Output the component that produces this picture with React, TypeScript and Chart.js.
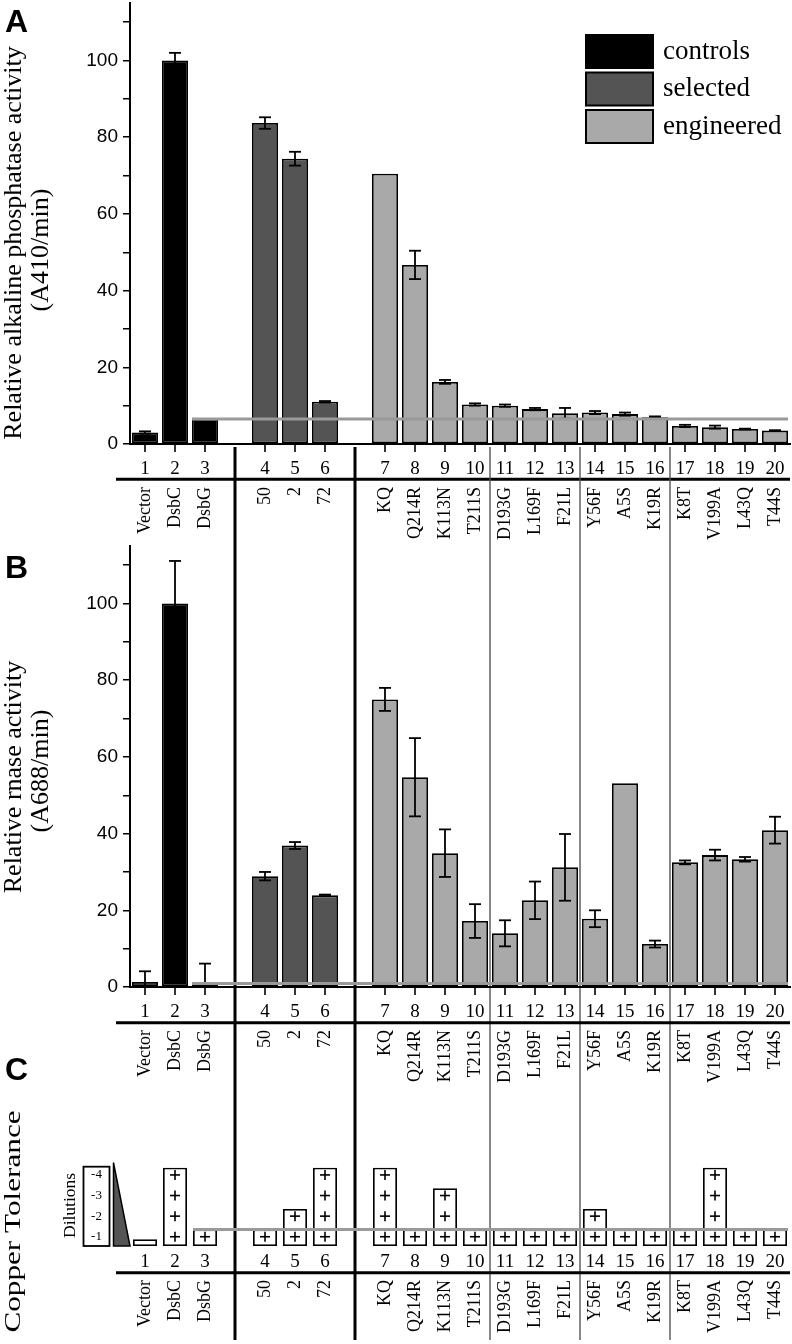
import React, { useEffect, useRef } from 'react';
import { Chart, registerables } from 'chart.js';

Chart.register(...registerables);

const W = 792;
const H = 1344;
const SERIF = '"Liberation Serif", "Times New Roman", serif';
const SANS = '"Liberation Sans", Arial, sans-serif';

// ---- categories (22 slots, two empty slots hold the group dividers) ----
const slotNumbers = ['1', '2', '3', '', '4', '5', '6', '', '7', '8', '9', '10', '11', '12', '13', '14', '15', '16', '17', '18', '19', '20'];
const slotNames = ['Vector', 'DsbC', 'DsbG', '', '50', '2', '72', '', 'KQ', 'Q214R', 'K113N', 'T211S', 'D193G', 'L169F', 'F21L', 'Y56F', 'A5S', 'K19R', 'K8T', 'V199A', 'L43Q', 'T44S'];
const slotGroups: (string | null)[] = ['controls', 'controls', 'controls', null, 'selected', 'selected', 'selected', null,
  'engineered', 'engineered', 'engineered', 'engineered', 'engineered', 'engineered', 'engineered', 'engineered', 'engineered', 'engineered', 'engineered', 'engineered', 'engineered', 'engineered'];
const groupNames = ['controls', 'selected', 'engineered'];
const groupColors = ['#000000', '#545454', '#a9a9a9'];
const thickDividers = [3, 7];
const thinDividers = [11.5, 14.5, 17.5];

// ---- panel A: alkaline phosphatase ----
const alpValues = [3.0, 100, 6.5, null, 83.7, 74.4, 11.0, null, 70.5, 46.7, 16.2, 10.3, 10.0, 9.1, 8.0, 8.2, 7.8, 7.0, 4.7, 4.4, 3.9, 3.5];
const alpErrors = [0.3, 2.0, 0, null, 1.5, 1.8, 0.2, null, 0, 3.7, 0.5, 0.3, 0.3, 0.3, 1.4, 0.4, 0.4, 0.2, 0.3, 0.4, 0.1, 0.1];
const alpCutoff = 6.5;

// ---- panel B: RNase ----
const rnaseValues = [1.3, 100, 0.8, null, 28.9, 36.9, 23.9, null, 75.0, 54.7, 34.9, 17.2, 14.0, 22.6, 31.2, 17.8, 53.1, 11.2, 32.5, 34.4, 33.3, 40.9];
const rnaseErrors = [2.8, 11.1, 5.3, null, 1.1, 0.9, 0.2, null, 3.0, 10.2, 6.2, 4.4, 3.4, 4.9, 8.7, 2.2, 0, 0.9, 0.5, 1.4, 0.6, 3.5];
const rnaseCutoff = 0.9;

// ---- panel C: copper tolerance (number of positive dilutions) ----
const copperPlus = [0, 4, 1, null, 1, 2, 4, null, 4, 1, 3, 1, 1, 1, 1, 2, 1, 1, 1, 4, 1, 1];
const copperCutoff = 0.8;
const dilutionLabels = ['-1', '-2', '-3', '-4'];

const slotColors = slotGroups.map((g) => (g === null ? 'rgba(0,0,0,0)' : groupColors[groupNames.indexOf(g)]));

function drawRotated(ctx: CanvasRenderingContext2D, text: string, x: number, y: number, font: string,
  align: CanvasTextAlign, baseline: CanvasTextBaseline, stretch = 1) {
  ctx.save();
  ctx.translate(x, y);
  ctx.rotate(-Math.PI / 2);
  ctx.scale(stretch, 1);
  ctx.font = font;
  ctx.textAlign = align;
  ctx.textBaseline = baseline;
  ctx.fillStyle = '#000';
  ctx.fillText(text, 0, 0);
  ctx.restore();
}

function line(ctx: CanvasRenderingContext2D, x1: number, y1: number, x2: number, y2: number, w: number, color = '#000') {
  ctx.save();
  ctx.strokeStyle = color;
  ctx.lineWidth = w;
  ctx.beginPath();
  ctx.moveTo(x1, y1);
  ctx.lineTo(x2, y2);
  ctx.stroke();
  ctx.restore();
}

// table of numbers + rotated names under a panel
function tablePlugin(axisTicks: boolean, numOff: number, lineOff: number, labelOff: number) {
  return {
    id: 'labelTable',
    afterDraw(chart: any) {
      const ctx: CanvasRenderingContext2D = chart.ctx;
      const xs = chart.scales.x;
      const base = chart.chartArea.bottom;
      slotNumbers.forEach((n, i) => {
        if (!n) return;
        const x = xs.getPixelForValue(i);
        if (axisTicks) line(ctx, x, base, x, base + 8, 1.6);
        ctx.save();
        ctx.font = `19px ${SERIF}`;
        ctx.textAlign = 'center';
        ctx.textBaseline = 'alphabetic';
        ctx.fillStyle = '#000';
        ctx.fillText(n, x, base + numOff);
        ctx.restore();
        drawRotated(ctx, slotNames[i], x, base + labelOff, `18px ${SERIF}`, 'right', 'middle');
      });
      line(ctx, chart.chartArea.left - 14, base + lineOff, chart.chartArea.right, base + lineOff, 3);
    },
  };
}

function errorPlugin(errors: (number | null)[], cutoff: number) {
  return {
    id: 'errorBars',
    afterDatasetsDraw(chart: any) {
      const ctx: CanvasRenderingContext2D = chart.ctx;
      const meta = chart.getDatasetMeta(0);
      const ys = chart.scales.y;
      const area = chart.chartArea;
      const vals = chart.data.datasets[0].data as (number | null)[];
      ctx.save();
      ctx.beginPath();
      ctx.rect(area.left, area.top - 10, area.right - area.left, area.bottom - area.top + 9);
      ctx.clip();
      vals.forEach((v, i) => {
        const e = errors[i];
        if (v == null || !e) return;
        const x = meta.data[i].x;
        const y1 = ys.getPixelForValue(v + e);
        const y2 = ys.getPixelForValue(v - e);
        line(ctx, x, y1, x, y2, 1.8);
        line(ctx, x - 6, y1, x + 6, y1, 1.8);
        line(ctx, x - 6, y2, x + 6, y2, 1.8);
      });
      ctx.restore();
      const x0 = meta.data[2].x - meta.data[2].width / 2;
      const yc = ys.getPixelForValue(cutoff);
      line(ctx, x0, yc, area.right - 2, yc, 3, '#9a9a9a');
    },
  };
}

function titlePlugin(lines: string[], centers: number[], letter: string, letterY: number) {
  return {
    id: 'panelTitle',
    afterDraw(chart: any) {
      const ctx: CanvasRenderingContext2D = chart.ctx;
      drawRotated(ctx, lines[0], 21, centers[0], `26px ${SERIF}`, 'center', 'alphabetic');
      drawRotated(ctx, lines[1], 47.5, centers[1], `26px ${SERIF}`, 'center', 'alphabetic');
      ctx.save();
      ctx.font = `bold 32px ${SANS}`;
      ctx.fillStyle = '#000';
      ctx.textBaseline = 'alphabetic';
      ctx.fillText(letter, 5, letterY);
      ctx.restore();
    },
  };
}

const dividerPlugin = {
  id: 'dividers',
  afterDraw(chart: any) {
    const ctx: CanvasRenderingContext2D = chart.ctx;
    const xs = chart.scales.x;
    const y1 = chart.chartArea.bottom + 3;
    const y2 = 1340;
    thickDividers.forEach((d) => {
      const x = xs.getPixelForValue(d);
      line(ctx, x, y1, x, y2, 3);
    });
    thinDividers.forEach((d) => {
      const x = xs.getPixelForValue(d);
      line(ctx, x, y1, x, y2, 1.4, '#555');
    });
  },
};

const legendPlugin = {
  id: 'groupLegend',
  afterDraw(chart: any) {
    const ctx: CanvasRenderingContext2D = chart.ctx;
    const right = chart.chartArea.right;
    const top = chart.chartArea.top;
    groupNames.forEach((g, i) => {
      const bx = right - 204;
      const by = top + 32 + i * 37.5;
      ctx.save();
      ctx.fillStyle = groupColors[i];
      ctx.fillRect(bx, by, 67, 33);
      ctx.strokeStyle = '#000';
      ctx.lineWidth = 2;
      ctx.strokeRect(bx, by, 67, 33);
      ctx.font = `27px ${SERIF}`;
      ctx.fillStyle = '#000';
      ctx.textAlign = 'left';
      ctx.textBaseline = 'alphabetic';
      ctx.fillText(g, right - 127, by + 16.5 + 7);
      ctx.restore();
    });
  },
};

function barConfig(values: (number | null)[], top: number, bottom: number, plugins: any[]) {
  return {
    type: 'bar' as const,
    data: {
      labels: slotNumbers,
      datasets: [{
        data: values,
        backgroundColor: slotColors,
        borderColor: '#000',
        borderWidth: 1.8,
        borderSkipped: false,
        barPercentage: 0.87,
        categoryPercentage: 1,
      }],
    },
    options: {
      animation: false,
      responsive: false,
      devicePixelRatio: 1,
      layout: { padding: { left: 0, right: 2, top, bottom: H - bottom } },
      plugins: { legend: { display: false }, tooltip: { enabled: false } },
      scales: {
        x: {
          type: 'category',
          offset: true,
          afterFit: (s: any) => { s.height = 0; s.paddingLeft = 0; s.paddingRight = 0; },
          ticks: { display: false },
          grid: { drawOnChartArea: false, drawTicks: false },
          border: { color: '#000', width: 2 },
        },
        y: {
          min: 0,
          max: 115,
          afterFit: (s: any) => { s.width = 130; s.paddingTop = 0; s.paddingBottom = 0; },
          ticks: {
            stepSize: 10,
            includeBounds: false,
            autoSkip: false,
            padding: 5,
            color: '#000',
            font: { family: SANS, size: 19 },
            callback: (v: any) => (Number(v) % 20 === 0 ? String(v) : ''),
          },
          grid: { drawOnChartArea: false, drawTicks: true, tickLength: 7, color: '#000', lineWidth: 1.5 },
          border: { color: '#000', width: 2 },
        },
      },
    },
    plugins,
  };
}

function copperConfig() {
  const boxTop = copperPlus.map((n) => (n === null ? null : [0, n === 0 ? 0.33 : n - 0.2]));
  const plusPlugin = {
    id: 'pluses',
    afterDatasetsDraw(chart: any) {
      const ctx: CanvasRenderingContext2D = chart.ctx;
      const meta = chart.getDatasetMeta(0);
      const ys = chart.scales.y;
      const area = chart.chartArea;
      copperPlus.forEach((n, i) => {
        if (!n) return;
        const x = meta.data[i].x;
        for (let k = 1; k <= n; k++) {
          const y = ys.getPixelForValue(k - 0.55);
          line(ctx, x - 5, y, x + 5, y, 1.6);
          line(ctx, x, y - 5, x, y + 5, 1.6);
        }
      });
      // dilution key
      const left = area.left;
      const b = ys.getPixelForValue(0);
      const t = ys.getPixelForValue(3.85);
      ctx.save();
      ctx.strokeStyle = '#000';
      ctx.lineWidth = 1.8;
      ctx.strokeRect(left - 46.5, t, 26, b - t);
      ctx.beginPath();
      ctx.moveTo(left - 16.5, ys.getPixelForValue(4.05));
      ctx.lineTo(left - 16.5, b);
      ctx.lineTo(left, b);
      ctx.closePath();
      ctx.fillStyle = '#555';
      ctx.fill();
      ctx.lineWidth = 1.5;
      ctx.stroke();
      ctx.font = `13px ${SERIF}`;
      ctx.fillStyle = '#000';
      ctx.textAlign = 'center';
      ctx.textBaseline = 'middle';
      dilutionLabels.forEach((lab, k) => {
        ctx.fillText(lab, left - 33.5, ys.getPixelForValue(k + 1 - 0.55));
      });
      ctx.restore();
      drawRotated(ctx, 'Dilutions', 75, ys.getPixelForValue(1.97), `17.5px ${SERIF}`, 'center', 'alphabetic');
      // cutoff line
      const x0 = meta.data[2].x - meta.data[2].width / 2;
      const yc = ys.getPixelForValue(copperCutoff);
      line(ctx, x0, yc, area.right - 2, yc, 3, '#9a9a9a');
    },
  };
  const cTitle = {
    id: 'cTitle',
    afterDraw(chart: any) {
      const ctx: CanvasRenderingContext2D = chart.ctx;
      drawRotated(ctx, 'Copper Tolerance', 20, 1221.5, `24px ${SERIF}`, 'center', 'alphabetic', 1.3);
      ctx.save();
      ctx.font = `bold 32px ${SANS}`;
      ctx.fillStyle = '#000';
      ctx.fillText('C', 5, 1080);
      ctx.restore();
    },
  };
  return {
    type: 'bar' as const,
    data: {
      labels: slotNumbers,
      datasets: [{
        data: boxTop,
        backgroundColor: '#fff',
        borderColor: '#000',
        borderWidth: 1.8,
        borderSkipped: false,
        barPercentage: 0.8,
        categoryPercentage: 1,
      }],
    },
    options: {
      animation: false,
      responsive: false,
      devicePixelRatio: 1,
      layout: { padding: { left: 130, right: 2, top: 1246 - 6 * 20.6, bottom: H - 1246 } },
      plugins: { legend: { display: false }, tooltip: { enabled: false } },
      scales: {
        x: { type: 'category', offset: true, display: false },
        y: { min: 0, max: 6, display: false },
      },
    },
    plugins: [plusPlugin, tablePlugin(false, 21, 26.7, 34), cTitle],
  };
}

export default function App() {
  const aRef = useRef<HTMLCanvasElement>(null);
  const bRef = useRef<HTMLCanvasElement>(null);
  const cRef = useRef<HTMLCanvasElement>(null);

  useEffect(() => {
    const a = new Chart(aRef.current as HTMLCanvasElement, barConfig(alpValues, 3, 444, [
      errorPlugin(alpErrors, alpCutoff),
      tablePlugin(true, 30, 35.3, 43),
      titlePlugin(['Relative alkaline phosphatase activity', '(A410/min)'], [243, 250], 'A', 32),
      dividerPlugin,
      legendPlugin,
    ]) as any);
    const b = new Chart(bRef.current as HTMLCanvasElement, barConfig(rnaseValues, 546, 987, [
      errorPlugin(rnaseErrors, rnaseCutoff),
      tablePlugin(true, 30, 35.7, 43),
      titlePlugin(['Relative rnase activity', '(A688/min)'], [777, 771], 'B', 578),
    ]) as any);
    const c = new Chart(cRef.current as HTMLCanvasElement, copperConfig() as any);
    return () => { a.destroy(); b.destroy(); c.destroy(); };
  }, []);

  const cs: React.CSSProperties = { position: 'absolute', left: 0, top: 0, width: W, height: H };
  return (
    <div style={{ position: 'absolute', left: 0, top: 0, width: W, height: H, overflow: 'hidden', background: '#fff' }}>
      <canvas ref={aRef} width={W} height={H} style={cs} />
      <canvas ref={bRef} width={W} height={H} style={cs} />
      <canvas ref={cRef} width={W} height={H} style={cs} />
    </div>
  );
}
